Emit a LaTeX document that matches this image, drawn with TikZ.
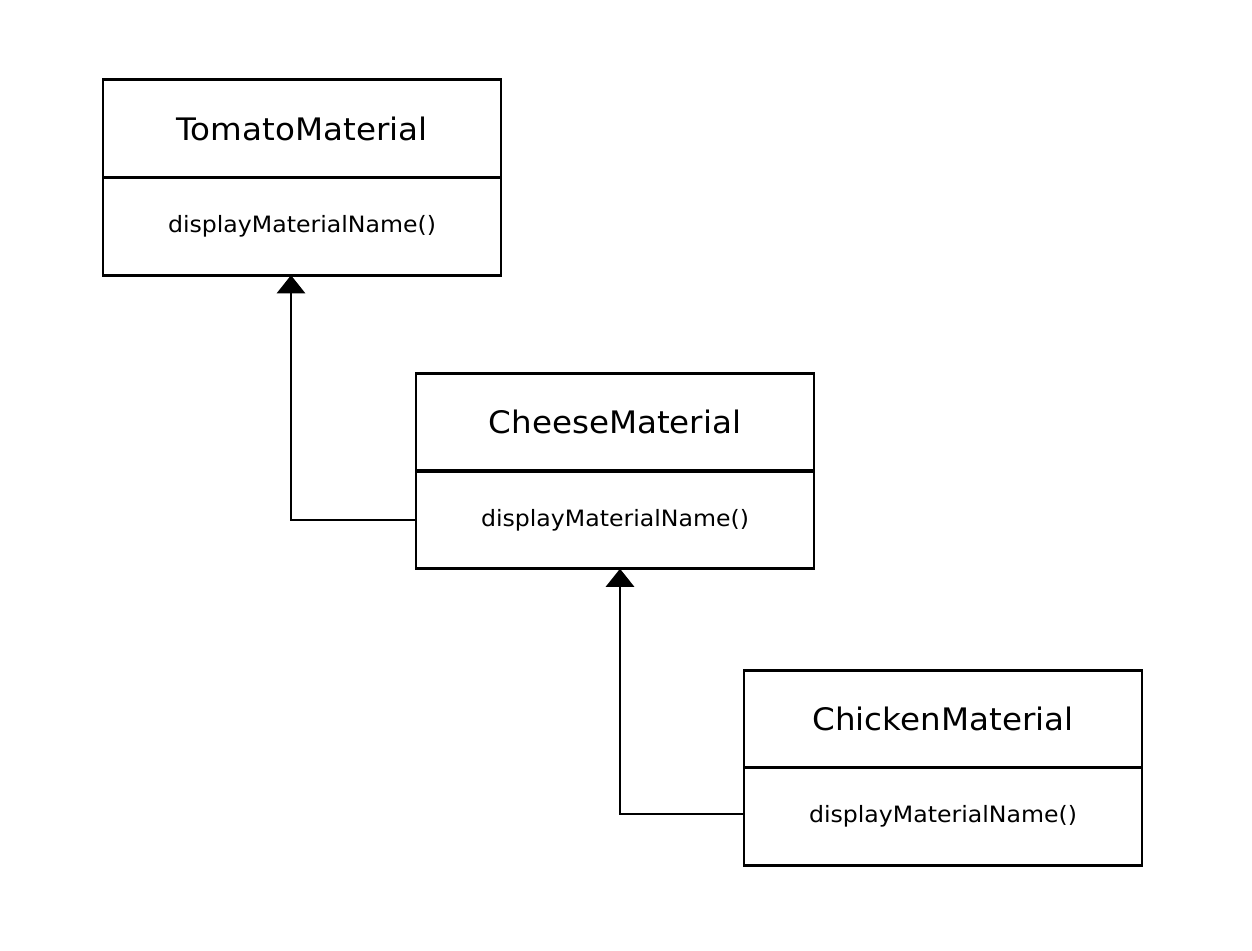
\documentclass[tikz,border=0pt]{standalone}
\usepackage{fontspec}
\setmainfont{DejaVu Sans}[FakeStretch=1.05]
\usetikzlibrary{arrows.meta}
\begin{document}
\begin{tikzpicture}[x=1pt,y=-1pt,
  comp/.style={draw=black,line width=2.8pt,minimum width=398pt,minimum height=97.5pt,inner sep=0pt,outer sep=0pt,fill=white},
  ttl/.style={comp,font=\fontsize{31}{36}\selectfont},
  mth/.style={comp,font=\fontsize{22.5}{27}\selectfont},
  inh/.style={line width=2.8pt,-{Triangle[width=28pt,length=18pt]}}]
\useasboundingbox (0,0) rectangle (1252,950);
\node[ttl] (tomato) at (302,128.5) {TomatoMaterial};
\node[mth] (tomatoM) at (302,226.5) {displayMaterialName()};
\node[ttl] (cheese) at (615,422) {CheeseMaterial};
\node[mth] (cheeseM) at (615,520) {displayMaterialName()};
\node[ttl] (chicken) at (943,719) {ChickenMaterial};
\node[mth] (chickenM) at (943,816.5) {displayMaterialName()};
\draw[inh] (cheeseM.west) -| ([xshift=-11pt]tomatoM.south);
\draw[inh] ([yshift=2.5pt]chickenM.west) -| ([xshift=5pt]cheeseM.south);
\end{tikzpicture}
\end{document}
